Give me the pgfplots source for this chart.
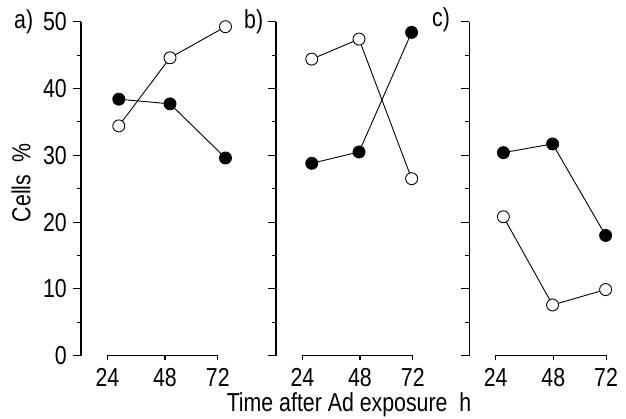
\documentclass[border=0pt]{standalone}
\usepackage{fontspec}
\setmainfont[FakeStretch=0.82]{Liberation Sans}
\usepackage{pgfplots}
\pgfplotsset{compat=1.18}

% one value table per panel: x in h (as placed), open and filled series
\pgfplotstableread{
x    y
28.75 34.4
50.1  44.6
73.2  49.25
}\aopen
\pgfplotstableread{
x    y
28.75 38.4
50.1  37.7
73.2  29.6
}\afill
\pgfplotstableread{
x    y
27.9 44.4
47.6 47.4
69.5 26.5
}\bopen
\pgfplotstableread{
x    y
27.9 28.8
47.6 30.5
69.5 48.4
}\bfill
\pgfplotstableread{
x    y
27.2 20.8
47.7 7.6
69.8 9.9
}\copen
\pgfplotstableread{
x    y
27.2 30.4
47.7 31.7
69.8 18.0
}\cfill

\pgfplotsset{
  panel/.style={
    scale only axis, width=151.2pt, height=334pt,
    xmin=13, xmax=76, ymin=0, ymax=50,
    axis lines*=left,
    x axis line style={draw=none},
    y axis line style={line width=1.1pt},
    xtick={24,48,70}, xticklabels={24,48,72},
    xtick style={draw=none},
    ytick={0,10,...,50}, minor ytick={5,15,...,45},
    tick align=outside,
    major tick length=8pt, minor tick length=4.5pt,
    every tick/.style={line width=1.1pt, black},
    /pgf/number format/assume math mode=true,
    ticklabel style={font=\fontsize{26}{29}\selectfont},
    xticklabel style={anchor=base, yshift=-22.3pt, inner sep=0pt},
    yticklabel style={anchor=east, inner sep=0pt, xshift=-6pt},
    clip=false,
  },
  open/.style={black, line width=0.9pt, mark=*, mark size=6pt,
    mark options={fill=white, draw=black, line width=0.9pt}},
  full/.style={black, line width=0.9pt, mark=*, mark size=6pt,
    mark options={fill=black, draw=black}},
}

\newcommand{\xaxisline}{%
  \draw[line width=1.1pt] (axis cs:24,0) ++(0pt,-4pt) -- (axis cs:24,0) -- (axis cs:70,0) -- ++(0pt,-4pt);
  \draw[line width=1.1pt] (axis cs:48,0) -- ++(0pt,-4pt);
}

\begin{document}
\begin{tikzpicture}[x=1pt, y=1pt, every node/.style={font=\fontsize{26}{29}\selectfont}]
\useasboundingbox (0,0) rectangle (626,418);

\begin{axis}[panel, at={(81pt,62.3pt)}, anchor=south west]
  \xaxisline
  \addplot[full] table[x=x, y=y] {\afill};
  \addplot[open] table[x=x, y=y] {\aopen};
\end{axis}

\begin{axis}[panel, at={(276pt,62.3pt)}, anchor=south west, yticklabels={}]
  \xaxisline
  \addplot[full] table[x=x, y=y] {\bfill};
  \addplot[open] table[x=x, y=y] {\bopen};
\end{axis}

\begin{axis}[panel, at={(469.3pt,62.3pt)}, anchor=south west, yticklabels={}]
  \xaxisline
  \addplot[full] table[x=x, y=y] {\cfill};
  \addplot[open] table[x=x, y=y] {\copen};
\end{axis}

\node[anchor=west, inner sep=0pt] at (14,396) {a)};
\node[anchor=west, inner sep=0pt] at (244,396) {b)};
\node[anchor=west, inner sep=0pt] at (432,398) {c)};
\node[rotate=90, inner sep=0pt] at (21,235) {Cells\ \ \%};
\node[anchor=base, inner sep=0pt] at (349,6.5) {Time after Ad exposure\ \ h};
\end{tikzpicture}
\end{document}
